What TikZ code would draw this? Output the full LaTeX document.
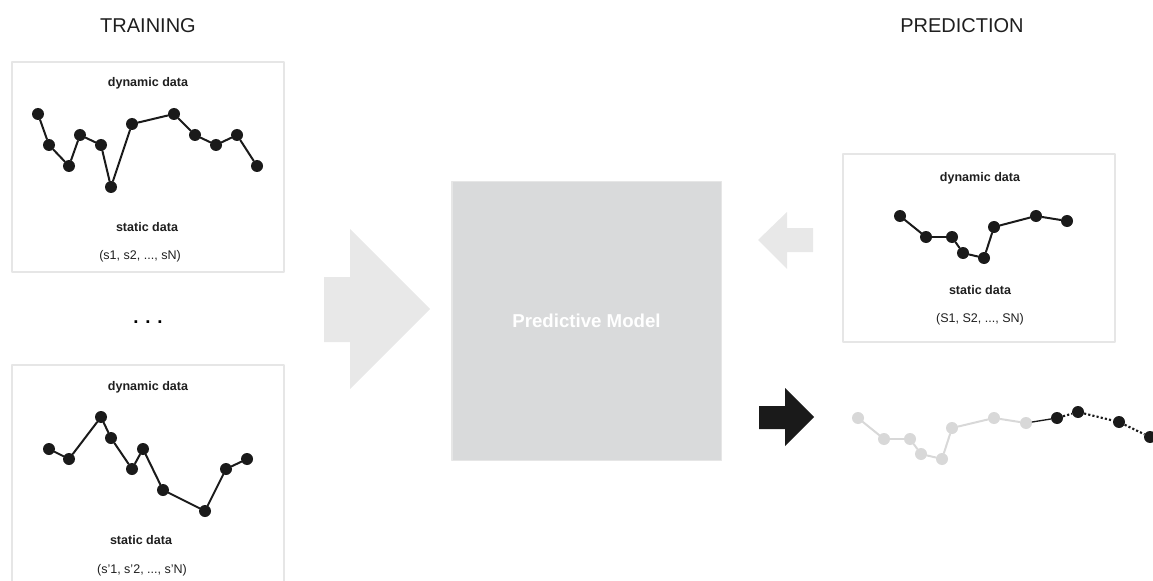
\documentclass[tikz,border=0pt]{standalone}
\usepackage{fontspec}
\setmainfont{Liberation Sans}
\definecolor{boxline}{HTML}{E6E6E6}
\definecolor{modelfill}{HTML}{D9DADB}
\definecolor{arrowfill}{HTML}{E8E8E8}
\definecolor{pastdot}{HTML}{D8D8D8}
\definecolor{darkdot}{HTML}{1A1A1A}

\begin{document}
\begin{tikzpicture}[x=0.75pt, y=-0.75pt, line cap=round, line join=round,
  panel/.style={draw=boxline, line width=1.5pt},
  dot/.style={circle, fill=darkdot, inner sep=0pt, minimum size=9pt},
  pdot/.style={circle, fill=pastdot, inner sep=0pt, minimum size=9pt},
  series/.style={draw=darkdot, line width=1.5pt},
  pseries/.style={draw=pastdot, line width=1.5pt},
  fseries/.style={draw=darkdot, line width=1.6pt, line cap=butt, dash pattern=on 1.6pt off 1.6pt},
  heading/.style={anchor=base, text=black!88, font=\fontsize{15}{18}\selectfont},
  caption/.style={anchor=base, text=black!88, font=\fontsize{9.4}{11}\selectfont\bfseries},
  values/.style={anchor=base, text=black!88, font=\fontsize{9.4}{11}\selectfont}]

\useasboundingbox (0,0) rectangle (1153,581);
\clip (0,0) rectangle (1153,581);

% training side
\node[heading] (train) at (148,33) {TRAINING};

\draw[panel] (12,62) rectangle (284,272);
\node[caption] (dynA) at (148,87) {dynamic data};
\foreach \x/\y [count=\i] in {38/114,49/145,69/166,80/135,101/145,111/187,
                              132/124,174/114,195/135,216/145,237/135,257/166}
  \node[dot] (a\i) at (\x,\y) {};
\foreach \i [count=\j from 2] in {1,...,11}
  \draw[series] (a\i) -- (a\j);
\node[caption] (statA) at (147,231) {static data};
\node[values] (valA) at (140,259) {(s1, s2, ..., sN)};

\node[anchor=base, font=\fontsize{14}{17}\selectfont\bfseries] (more) at (148,323) {. . .};

\draw[panel] (12,365) rectangle (284,600);
\node[caption] (dynB) at (148,390) {dynamic data};
\foreach \x/\y [count=\i] in {49/449,69/459,101/417,111/438,132/469,
                              143/449,163/490,205/511,226/469,247/459}
  \node[dot] (b\i) at (\x,\y) {};
\foreach \i [count=\j from 2] in {1,...,9}
  \draw[series] (b\i) -- (b\j);
\node[caption] (statB) at (141,544) {static data};
\node[values] (valB) at (142,573) {(s'1, s'2, ..., s'N)};

% model
\fill[arrowfill] (324,277) -- (350,277) -- (350,229) -- (430,309)
  -- (350,389) -- (350,342) -- (324,342) -- cycle;
\node[draw=boxline, line width=1pt, fill=modelfill, minimum width=202pt,
  minimum height=209pt, text=white, font=\fontsize{14}{17}\selectfont\bfseries]
  (model) at (586.5,321) {Predictive Model};

% prediction side
\node[heading] (pred) at (962,33) {PREDICTION};

\draw[panel] (843,154) rectangle (1115,342);
\node[caption] (dynC) at (980,182) {dynamic data};
\foreach \x/\y [count=\i] in {900/216,926/237,952/237,963/253,
                              984/258,994/227,1036/216,1067/221}
  \node[dot] (c\i) at (\x,\y) {};
\foreach \i [count=\j from 2] in {1,...,7}
  \draw[series] (c\i) -- (c\j);
\node[caption] (statC) at (980,294) {static data};
\node[values] (valC) at (980,322) {(S1, S2, ..., SN)};

\fill[arrowfill] (813,228) -- (787,228) -- (787,212) -- (758,240)
  -- (787,269) -- (787,252) -- (813,252) -- cycle;

\fill[darkdot] (759,406) -- (785,406) -- (785,388) -- (814,417)
  -- (785,446) -- (785,429) -- (759,429) -- cycle;

\foreach \x/\y [count=\i] in {858/418,884/439,910/439,921/454,
                              942/459,952/428,994/418,1026/423}
  \node[pdot] (p\i) at (\x,\y) {};
\foreach \i [count=\j from 2] in {1,...,7}
  \draw[pseries] (p\i) -- (p\j);
\foreach \x/\y [count=\i] in {1057/418,1078/412,1119/422,1150/437}
  \node[dot] (f\i) at (\x,\y) {};
\draw[draw=darkdot, line width=1pt] (p8) -- (f1);
\foreach \i [count=\j from 2] in {1,2,3}
  \draw[fseries] (f\i) -- (f\j);

\end{tikzpicture}
\end{document}
